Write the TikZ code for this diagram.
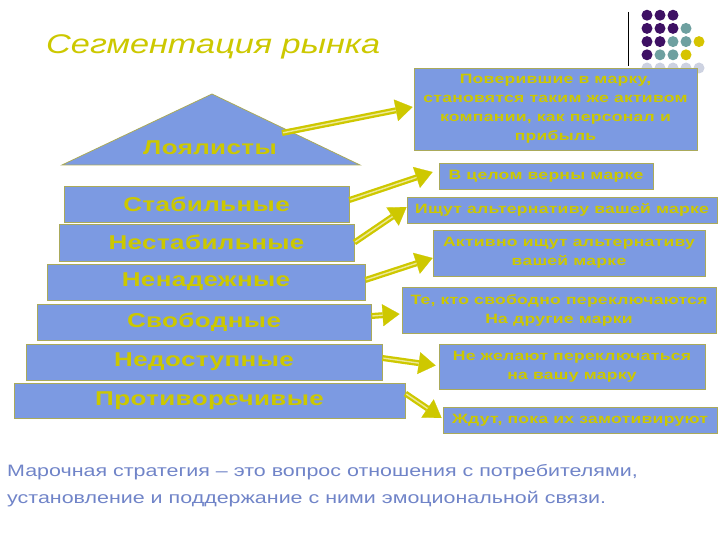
\documentclass[tikz,border=0pt]{standalone}
\usepackage{fontspec}
\setmainfont{Liberation Sans}
\newfontfamily\boxfont[FakeStretch=1.3,LetterSpace=2]{Liberation Sans Bold}
\newfontfamily\titlefont[FakeStretch=1.27]{Liberation Sans Italic}
\newfontfamily\notefont[FakeStretch=1.3]{Liberation Sans}
\usetikzlibrary{arrows.meta}
\definecolor{boxblue}{RGB}{124,154,226}
\definecolor{txty}{RGB}{204,200,0}
\definecolor{arrY}{RGB}{206,200,0}
\definecolor{arrYL}{RGB}{236,232,150}
\definecolor{edgeY}{RGB}{170,170,90}
\definecolor{noteblue}{RGB}{112,132,200}
\definecolor{dotP}{RGB}{62,16,100}
\definecolor{dotT}{RGB}{110,160,160}
\definecolor{dotY}{RGB}{214,196,0}
\definecolor{dotG}{RGB}{205,210,225}
\tikzset{
  lbox/.style={draw=edgeY, line width=0.8pt, fill=boxblue, text=txty, inner sep=0pt,
    font=\boxfont\fontsize{20}{22}\selectfont},
  rbox/.style={draw=edgeY, line width=0.8pt, fill=boxblue, text=txty, inner sep=0pt, align=center,
    font=\boxfont\fontsize{13.5}{19}\selectfont},
  sarrow/.style={draw=arrY, line width=6pt,
    -{Triangle[width=22pt, length=17pt, line width=0.2pt]},
    postaction={draw=arrYL, line width=1.4pt, -, shorten >=17pt, shorten <=1pt}},
  dot/.style={circle, inner sep=0pt, minimum size=11pt}
}
\begin{document}
\begin{tikzpicture}[x=1pt,y=-1pt]
\useasboundingbox (0,0) rectangle (720,540);
% title
\node[anchor=base west, text=txty, font=\titlefont\fontsize{27}{30}\selectfont, inner sep=0pt] (title) at (46,54) {Сегментация рынка};
% decoration
\draw[line width=1pt] (628,12) -- (628,66);
\foreach \c/\r/\col in {1/1/dotP,2/1/dotP,3/1/dotP,
  1/2/dotP,2/2/dotP,3/2/dotP,4/2/dotT,
  1/3/dotP,2/3/dotP,3/3/dotT,4/3/dotT,5/3/dotY,
  1/4/dotP,2/4/dotT,3/4/dotT,4/4/dotY,
  1/5/dotG,2/5/dotG,3/5/dotG,4/5/dotG,5/5/dotG}
  \node[dot, fill=\col] at ({634+13*\c},{2+13.2*\r}) {};
% loyalists triangle
\draw[draw=edgeY, line width=0.8pt, fill=boxblue] (62,165) -- (212,94) -- (360,165) -- cycle;
\node[text=txty, font=\boxfont\fontsize{20}{22}\selectfont] (loyal) at (210,148) {Лоялисты};
\coordinate (loyA) at (282,133);
% left stack
\node[lbox, minimum width=285pt, minimum height=36pt] (stab) at (206.5,204) {Стабильные};
\node[lbox, minimum width=295pt, minimum height=37pt] (nestab) at (206.5,242.5) {Нестабильные};
\node[lbox, minimum width=318pt, minimum height=36pt] (nenad) at (206,282) {Ненадежные};
\node[lbox, minimum width=334pt, minimum height=36pt] (svob) at (204,322) {Свободные};
\node[lbox, minimum width=356pt, minimum height=36pt] (nedost) at (204,362) {Недоступные};
\node[lbox, minimum width=391pt, minimum height=35pt] (protiv) at (209.5,400.5) {Противоречивые};
% right boxes
\node[rbox, minimum width=283pt, minimum height=82pt] (top) at (555.5,109) {Поверившие в марку,\\становятся таким же активом\\компании, как персонал и\\прибыль};
\node[rbox, minimum width=214pt, minimum height=26pt] (vcel) at (546,176) {В целом верны марке};
\node[rbox, minimum width=310pt, minimum height=26pt] (ishut) at (562,210) {Ищут альтернативу вашей марке};
\node[rbox, minimum width=272pt, minimum height=46pt] (aktiv) at (569,253) {Активно ищут альтернативу\\вашей марке};
\node[rbox, minimum width=314pt, minimum height=46pt] (te) at (559,310) {Те, кто свободно переключаются\\На другие марки};
\node[rbox, minimum width=266pt, minimum height=45pt] (nezh) at (572,366.5) {Не желают переключаться\\на вашу марку};
\node[rbox, minimum width=274pt, minimum height=26pt] (zhdut) at (580,420) {Ждут, пока их замотивируют};
% arrows
\draw[sarrow] (loyA) -- ([yshift=2pt,xshift=-1pt]top.west);
\draw[sarrow] ([yshift=4pt]stab.east) -- ([xshift=-6pt,yshift=4pt]vcel.west);
\draw[sarrow] (nestab.east) -- ([yshift=3pt]ishut.west);
\draw[sarrow] ([yshift=2pt]nenad.east) -- ([yshift=-5pt]aktiv.west);
\draw[sarrow] ([yshift=6pt]svob.east) -- ([yshift=-4pt,xshift=-2pt]te.west);
\draw[sarrow] ([yshift=4pt]nedost.east) -- ([yshift=1pt,xshift=-3pt]nezh.west);
\draw[sarrow] ([yshift=7pt]protiv.east) -- ([yshift=2pt,xshift=-1pt]zhdut.west);
% note
\node[anchor=north west, align=left, text=noteblue, inner sep=0pt, font=\notefont\fontsize{16.5}{27}\selectfont] (note) at (7,464) {Марочная стратегия – это вопрос отношения с потребителями,\\установление и поддержание с ними эмоциональной связи.};
\end{tikzpicture}
\end{document}
